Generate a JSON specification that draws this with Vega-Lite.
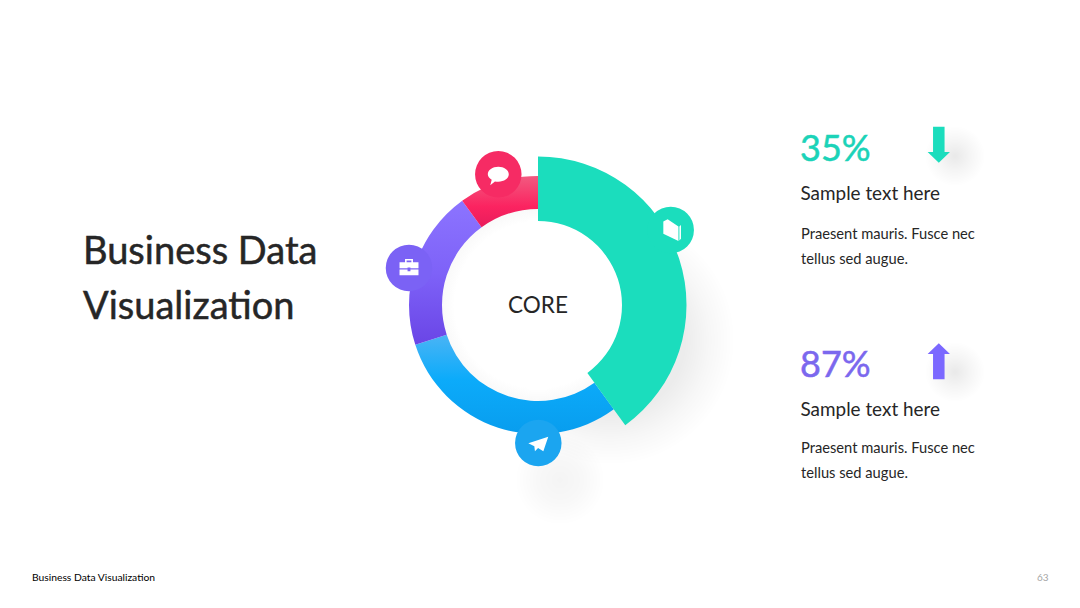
{"$schema":"https://vega.github.io/schema/vega-lite/v6.json","width":1080,"height":608,"autosize":{"type":"fit","contains":"padding"},"padding":0,"background":"#ffffff","config":{"view":{"stroke":null},"axis":{"disable":true},"text":{"font":"Lato","align":"left","baseline":"alphabetic"}},
"datasets":{"segments":[{"segment":"Teal","share":40,"rank":1},{"segment":"Blue","share":30,"rank":2},{"segment":"Purple","share":20,"rank":3},{"segment":"Red","share":10,"rank":4}]},
"layer":[
{"data":{"values":[{"k":"shadow-teal"}]},"mark":{"type":"point","filled":true,"opacity":1,"strokeWidth":0,"size":62500,"fill":{"gradient":"radial","x1":0.5,"y1":0.5,"r1":0,"x2":0.5,"y2":0.5,"r2":0.5,"stops":[{"offset":0,"color":"rgba(0,0,0,0.09)"},{"offset":0.6,"color":"rgba(0,0,0,0.075)"},{"offset":0.8,"color":"rgba(0,0,0,0.03)"},{"offset":1,"color":"rgba(0,0,0,0)"}]}},"encoding":{"x":{"datum":610,"scale":{"type":"linear","domain":[0,1080],"nice":false,"zero":false}},"y":{"datum":340,"scale":{"type":"linear","domain":[0,608],"reverse":true,"nice":false,"zero":false}}}},
{"data":{"values":[{"k":"shadow-plane"}]},"mark":{"type":"point","filled":true,"opacity":1,"strokeWidth":0,"size":8100,"fill":{"gradient":"radial","x1":0.5,"y1":0.5,"r1":0,"x2":0.5,"y2":0.5,"r2":0.5,"stops":[{"offset":0,"color":"rgba(0,0,0,0.045)"},{"offset":0.5,"color":"rgba(0,0,0,0.028)"},{"offset":1,"color":"rgba(0,0,0,0)"}]}},"encoding":{"x":{"datum":560,"scale":{"type":"linear","domain":[0,1080],"nice":false,"zero":false}},"y":{"datum":480,"scale":{"type":"linear","domain":[0,608],"reverse":true,"nice":false,"zero":false}}}},
{"data":{"values":[{"k":"shadow-a"}]},"mark":{"type":"point","filled":true,"opacity":1,"strokeWidth":0,"size":3600,"fill":{"gradient":"radial","x1":0.5,"y1":0.5,"r1":0,"x2":0.5,"y2":0.5,"r2":0.5,"stops":[{"offset":0,"color":"rgba(0,0,0,0.085)"},{"offset":0.5,"color":"rgba(0,0,0,0.04)"},{"offset":1,"color":"rgba(0,0,0,0)"}]}},"encoding":{"x":{"datum":955,"scale":{"type":"linear","domain":[0,1080],"nice":false,"zero":false}},"y":{"datum":156,"scale":{"type":"linear","domain":[0,608],"reverse":true,"nice":false,"zero":false}}}},
{"data":{"values":[{"k":"shadow-b"}]},"mark":{"type":"point","filled":true,"opacity":1,"strokeWidth":0,"size":3600,"fill":{"gradient":"radial","x1":0.5,"y1":0.5,"r1":0,"x2":0.5,"y2":0.5,"r2":0.5,"stops":[{"offset":0,"color":"rgba(0,0,0,0.085)"},{"offset":0.5,"color":"rgba(0,0,0,0.04)"},{"offset":1,"color":"rgba(0,0,0,0)"}]}},"encoding":{"x":{"datum":955,"scale":{"type":"linear","domain":[0,1080],"nice":false,"zero":false}},"y":{"datum":372,"scale":{"type":"linear","domain":[0,608],"reverse":true,"nice":false,"zero":false}}}},
{"data":{"values":[{"k":"inner"}]},"mark":{"type":"point","filled":true,"opacity":1,"strokeWidth":0,"size":37636,"fill":{"gradient":"radial","x1":0.5,"y1":0.5,"r1":0,"x2":0.5,"y2":0.5,"r2":0.5,"stops":[{"offset":0,"color":"#ffffff"},{"offset":0.86,"color":"#ffffff"},{"offset":0.9,"color":"#fdfdfd"},{"offset":1,"color":"#f9f9f9"}]}},"encoding":{"x":{"datum":538,"scale":{"type":"linear","domain":[0,1080],"nice":false,"zero":false}},"y":{"datum":305,"scale":{"type":"linear","domain":[0,608],"reverse":true,"nice":false,"zero":false}}}},
{"data":{"name":"segments"},"transform":[{"stack":"share","sort":[{"field":"rank"}],"as":["a0","a1"]},{"filter":"datum.segment==='Blue'"}],"mark":{"type":"arc","radius":129,"radius2":96,"fill":{"gradient":"linear","x1":0,"y1":0,"x2":0,"y2":1,"stops":[{"offset":0,"color":"#4ab4f5"},{"offset":0.45,"color":"#0cabfa"},{"offset":1,"color":"#089dee"}]}},"encoding":{"x":{"datum":538,"scale":{"type":"linear","domain":[0,1080],"nice":false,"zero":false}},"y":{"datum":305,"scale":{"type":"linear","domain":[0,608],"reverse":true,"nice":false,"zero":false}},"theta":{"field":"a0","type":"quantitative","scale":{"domain":[0,100],"range":[0,6.283185]}},"theta2":{"field":"a1"}}},
{"data":{"name":"segments"},"transform":[{"stack":"share","sort":[{"field":"rank"}],"as":["a0","a1"]},{"filter":"datum.segment==='Purple'"}],"mark":{"type":"arc","radius":129,"radius2":96,"fill":{"gradient":"linear","x1":0,"y1":0,"x2":0,"y2":1,"stops":[{"offset":0,"color":"#8c74ff"},{"offset":0.5,"color":"#7e62f8"},{"offset":1,"color":"#6a45e6"}]}},"encoding":{"x":{"datum":538,"scale":{"type":"linear","domain":[0,1080],"nice":false,"zero":false}},"y":{"datum":305,"scale":{"type":"linear","domain":[0,608],"reverse":true,"nice":false,"zero":false}},"theta":{"field":"a0","type":"quantitative","scale":{"domain":[0,100],"range":[0,6.283185]}},"theta2":{"field":"a1"}}},
{"data":{"name":"segments"},"transform":[{"stack":"share","sort":[{"field":"rank"}],"as":["a0","a1"]},{"filter":"datum.segment==='Red'"}],"mark":{"type":"arc","radius":129,"radius2":96,"fill":{"gradient":"linear","x1":0,"y1":0,"x2":0,"y2":1,"stops":[{"offset":0,"color":"#f25a80"},{"offset":0.6,"color":"#fb2360"},{"offset":1,"color":"#e81c5c"}]}},"encoding":{"x":{"datum":538,"scale":{"type":"linear","domain":[0,1080],"nice":false,"zero":false}},"y":{"datum":305,"scale":{"type":"linear","domain":[0,608],"reverse":true,"nice":false,"zero":false}},"theta":{"field":"a0","type":"quantitative","scale":{"domain":[0,100],"range":[0,6.283185]}},"theta2":{"field":"a1"}}},
{"data":{"name":"segments"},"transform":[{"stack":"share","sort":[{"field":"rank"}],"as":["a0","a1"]},{"filter":"datum.segment==='Teal'"}],"mark":{"type":"arc","radius":148.5,"radius2":84,"fill":"#1bddbd"},"encoding":{"x":{"datum":538,"scale":{"type":"linear","domain":[0,1080],"nice":false,"zero":false}},"y":{"datum":305,"scale":{"type":"linear","domain":[0,608],"reverse":true,"nice":false,"zero":false}},"theta":{"field":"a0","type":"quantitative","scale":{"domain":[0,100],"range":[0,6.283185]}},"theta2":{"field":"a1"}}},
{"data":{"values":[{"k":"badge-chat"}]},"mark":{"type":"point","filled":true,"opacity":1,"strokeWidth":0,"size":2162,"shape":"circle","fill":"#f62b64"},"encoding":{"x":{"datum":498.3,"scale":{"type":"linear","domain":[0,1080],"nice":false,"zero":false}},"y":{"datum":174.3,"scale":{"type":"linear","domain":[0,608],"reverse":true,"nice":false,"zero":false}}}},
{"data":{"values":[{"k":"badge-case"}]},"mark":{"type":"point","filled":true,"opacity":1,"strokeWidth":0,"size":2162,"shape":"circle","fill":"#7b62f5"},"encoding":{"x":{"datum":409,"scale":{"type":"linear","domain":[0,1080],"nice":false,"zero":false}},"y":{"datum":268,"scale":{"type":"linear","domain":[0,608],"reverse":true,"nice":false,"zero":false}}}},
{"data":{"values":[{"k":"badge-book"}]},"mark":{"type":"point","filled":true,"opacity":1,"strokeWidth":0,"size":2162,"shape":"circle","fill":"#1bddbd"},"encoding":{"x":{"datum":670.7,"scale":{"type":"linear","domain":[0,1080],"nice":false,"zero":false}},"y":{"datum":230,"scale":{"type":"linear","domain":[0,608],"reverse":true,"nice":false,"zero":false}}}},
{"data":{"values":[{"k":"badge-plane"}]},"mark":{"type":"point","filled":true,"opacity":1,"strokeWidth":0,"size":2162,"shape":"circle","fill":"#1ba5f0"},"encoding":{"x":{"datum":538.3,"scale":{"type":"linear","domain":[0,1080],"nice":false,"zero":false}},"y":{"datum":443,"scale":{"type":"linear","domain":[0,608],"reverse":true,"nice":false,"zero":false}}}},
{"data":{"values":[{"k":"icon-chat"}]},"mark":{"type":"point","filled":true,"opacity":1,"strokeWidth":0,"size":576,"fill":"#ffffff","shape":"M-0.875,0 C-0.875,-0.35 -0.48,-0.62 0,-0.62 C0.48,-0.62 0.875,-0.35 0.875,0 C0.875,0.35 0.48,0.62 0,0.62 C-0.1,0.62 -0.2,0.61 -0.28,0.6 L-0.67,0.92 L-0.55,0.45 C-0.75,0.33 -0.875,0.17 -0.875,0 Z"},"encoding":{"x":{"datum":498.3,"scale":{"type":"linear","domain":[0,1080],"nice":false,"zero":false}},"y":{"datum":174.3,"scale":{"type":"linear","domain":[0,608],"reverse":true,"nice":false,"zero":false}}}},
{"data":{"values":[{"k":"icon-case"}]},"mark":{"type":"point","filled":true,"opacity":1,"strokeWidth":0,"size":576,"fill":"#ffffff","shape":"M-0.79,-0.47 L0.79,-0.47 L0.79,0.02 L0.12,0.02 L0.12,-0.05 L-0.12,-0.05 L-0.12,0.02 L-0.79,0.02 Z M-0.79,0.12 L-0.12,0.12 L-0.12,0.28 L0.12,0.28 L0.12,0.12 L0.79,0.12 L0.79,0.6 L-0.79,0.6 Z M-0.33,-0.47 L-0.33,-0.75 L0.33,-0.75 L0.33,-0.47 L0.2,-0.47 L0.2,-0.62 L-0.2,-0.62 L-0.2,-0.47 Z"},"encoding":{"x":{"datum":409,"scale":{"type":"linear","domain":[0,1080],"nice":false,"zero":false}},"y":{"datum":268,"scale":{"type":"linear","domain":[0,608],"reverse":true,"nice":false,"zero":false}}}},
{"data":{"values":[{"k":"icon-book"}]},"mark":{"type":"point","filled":true,"opacity":1,"strokeWidth":0,"size":576,"fill":"#ffffff","shape":"M-0.64,-0.7 L-0.28,-0.89 L0.62,-0.3 L0.62,0.92 L-0.64,0.32 Z M0.7,-0.3 L0.83,-0.42 L0.83,0.72 L0.7,0.88 Z"},"encoding":{"x":{"datum":671,"scale":{"type":"linear","domain":[0,1080],"nice":false,"zero":false}},"y":{"datum":230,"scale":{"type":"linear","domain":[0,608],"reverse":true,"nice":false,"zero":false}}}},
{"data":{"values":[{"k":"icon-plane"}]},"mark":{"type":"point","filled":true,"opacity":1,"strokeWidth":0,"size":576,"fill":"#ffffff","shape":"M0.83,-0.53 L-0.83,0.03 L-0.33,0.28 L-0.28,0.68 L-0.02,0.42 L0.42,0.68 Z"},"encoding":{"x":{"datum":538.3,"scale":{"type":"linear","domain":[0,1080],"nice":false,"zero":false}},"y":{"datum":443,"scale":{"type":"linear","domain":[0,608],"reverse":true,"nice":false,"zero":false}}}},
{"data":{"values":[{"k":"down"}]},"mark":{"type":"point","filled":true,"opacity":1,"strokeWidth":0,"size":1296,"fill":"#1bddbd","shape":"M-0.32,-1 L0.32,-1 L0.32,0.4 L0.62,0.4 L0,1 L-0.62,0.4 L-0.32,0.4 Z"},"encoding":{"x":{"datum":938.8,"scale":{"type":"linear","domain":[0,1080],"nice":false,"zero":false}},"y":{"datum":144.7,"scale":{"type":"linear","domain":[0,608],"reverse":true,"nice":false,"zero":false}}}},
{"data":{"values":[{"k":"up"}]},"mark":{"type":"point","filled":true,"opacity":1,"strokeWidth":0,"size":1296,"fill":"#7b68ff","shape":"M0,-1 L0.62,-0.4 L0.32,-0.4 L0.32,1 L-0.32,1 L-0.32,-0.4 L-0.62,-0.4 Z"},"encoding":{"x":{"datum":938.8,"scale":{"type":"linear","domain":[0,1080],"nice":false,"zero":false}},"y":{"datum":361.3,"scale":{"type":"linear","domain":[0,608],"reverse":true,"nice":false,"zero":false}}}},
{"data":{"values":[{"label":"Business Data"}]},"mark":{"type":"text","fontSize":38,"fill":"#262626","stroke":"#262626","strokeWidth":0.5},"encoding":{"text":{"field":"label"},"x":{"datum":83,"scale":{"type":"linear","domain":[0,1080],"nice":false,"zero":false}},"y":{"datum":264,"scale":{"type":"linear","domain":[0,608],"reverse":true,"nice":false,"zero":false}}}},
{"data":{"values":[{"label":"Visualization"}]},"mark":{"type":"text","fontSize":38,"fill":"#262626","stroke":"#262626","strokeWidth":0.5},"encoding":{"text":{"field":"label"},"x":{"datum":83,"scale":{"type":"linear","domain":[0,1080],"nice":false,"zero":false}},"y":{"datum":319,"scale":{"type":"linear","domain":[0,608],"reverse":true,"nice":false,"zero":false}}}},
{"data":{"values":[{"label":"CORE"}]},"mark":{"type":"text","fontSize":22.5,"fill":"#262626","align":"center"},"encoding":{"text":{"field":"label"},"x":{"datum":538,"scale":{"type":"linear","domain":[0,1080],"nice":false,"zero":false}},"y":{"datum":313,"scale":{"type":"linear","domain":[0,608],"reverse":true,"nice":false,"zero":false}}}},
{"data":{"values":[{"label":"35%"}]},"mark":{"type":"text","fontSize":36,"fill":"#1bd3b8","stroke":"#1bd3b8","strokeWidth":0.5},"encoding":{"text":{"field":"label"},"x":{"datum":800,"scale":{"type":"linear","domain":[0,1080],"nice":false,"zero":false}},"y":{"datum":160.7,"scale":{"type":"linear","domain":[0,608],"reverse":true,"nice":false,"zero":false}}}},
{"data":{"values":[{"label":"Sample text here"}]},"mark":{"type":"text","fontSize":18.9,"fill":"#262626"},"encoding":{"text":{"field":"label"},"x":{"datum":800.5,"scale":{"type":"linear","domain":[0,1080],"nice":false,"zero":false}},"y":{"datum":200,"scale":{"type":"linear","domain":[0,608],"reverse":true,"nice":false,"zero":false}}}},
{"data":{"values":[{"label":"Praesent mauris. Fusce nec"}]},"mark":{"type":"text","fontSize":14.7,"fill":"#262626"},"encoding":{"text":{"field":"label"},"x":{"datum":801,"scale":{"type":"linear","domain":[0,1080],"nice":false,"zero":false}},"y":{"datum":239.3,"scale":{"type":"linear","domain":[0,608],"reverse":true,"nice":false,"zero":false}}}},
{"data":{"values":[{"label":"tellus sed augue."}]},"mark":{"type":"text","fontSize":14.7,"fill":"#262626"},"encoding":{"text":{"field":"label"},"x":{"datum":801,"scale":{"type":"linear","domain":[0,1080],"nice":false,"zero":false}},"y":{"datum":264,"scale":{"type":"linear","domain":[0,608],"reverse":true,"nice":false,"zero":false}}}},
{"data":{"values":[{"label":"87%"}]},"mark":{"type":"text","fontSize":36,"fill":"#7b68ee","stroke":"#7b68ee","strokeWidth":0.5},"encoding":{"text":{"field":"label"},"x":{"datum":800,"scale":{"type":"linear","domain":[0,1080],"nice":false,"zero":false}},"y":{"datum":376.7,"scale":{"type":"linear","domain":[0,608],"reverse":true,"nice":false,"zero":false}}}},
{"data":{"values":[{"label":"Sample text here"}]},"mark":{"type":"text","fontSize":18.9,"fill":"#262626"},"encoding":{"text":{"field":"label"},"x":{"datum":800.5,"scale":{"type":"linear","domain":[0,1080],"nice":false,"zero":false}},"y":{"datum":416,"scale":{"type":"linear","domain":[0,608],"reverse":true,"nice":false,"zero":false}}}},
{"data":{"values":[{"label":"Praesent mauris. Fusce nec"}]},"mark":{"type":"text","fontSize":14.7,"fill":"#262626"},"encoding":{"text":{"field":"label"},"x":{"datum":801,"scale":{"type":"linear","domain":[0,1080],"nice":false,"zero":false}},"y":{"datum":453,"scale":{"type":"linear","domain":[0,608],"reverse":true,"nice":false,"zero":false}}}},
{"data":{"values":[{"label":"tellus sed augue."}]},"mark":{"type":"text","fontSize":14.7,"fill":"#262626"},"encoding":{"text":{"field":"label"},"x":{"datum":801,"scale":{"type":"linear","domain":[0,1080],"nice":false,"zero":false}},"y":{"datum":478.3,"scale":{"type":"linear","domain":[0,608],"reverse":true,"nice":false,"zero":false}}}},
{"data":{"values":[{"label":"Business Data Visualization"}]},"mark":{"type":"text","fontSize":10.3,"fill":"#000000"},"encoding":{"text":{"field":"label"},"x":{"datum":32,"scale":{"type":"linear","domain":[0,1080],"nice":false,"zero":false}},"y":{"datum":581,"scale":{"type":"linear","domain":[0,608],"reverse":true,"nice":false,"zero":false}}}},
{"data":{"values":[{"label":"63"}]},"mark":{"type":"text","fontSize":10,"fill":"#a6a6a6"},"encoding":{"text":{"field":"label"},"x":{"datum":1037,"scale":{"type":"linear","domain":[0,1080],"nice":false,"zero":false}},"y":{"datum":581,"scale":{"type":"linear","domain":[0,608],"reverse":true,"nice":false,"zero":false}}}}
]}
